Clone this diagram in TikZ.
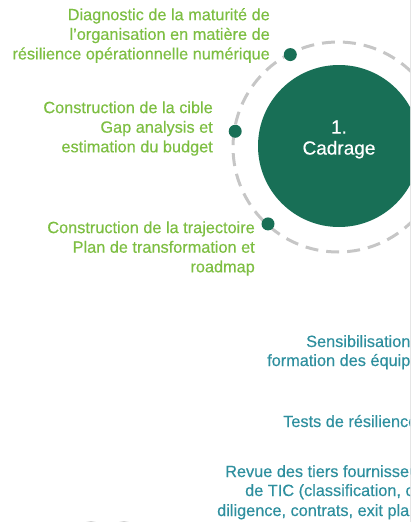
\documentclass[tikz,border=0pt]{standalone}
\usepackage{fontspec}
\setmainfont{Liberation Sans}
\newfontfamily\slidefont{Liberation Sans}[FakeBold=0.4]
\usetikzlibrary{shapes,arrows}
\definecolor{phasegreen}{RGB}{24,111,86}
\definecolor{taskgreen}{RGB}{125,190,66}
\definecolor{actionteal}{RGB}{46,143,158}
\definecolor{ringgray}{RGB}{198,198,198}
\tikzstyle{phase} = [circle, fill=phasegreen, minimum size=162pt, inner sep=0pt]
\tikzstyle{phase label} = [text=white, align=center, inner sep=0pt, font=\slidefont\fontsize{19}{21}\selectfont]
\tikzstyle{ring} = [draw=ringgray, line width=3pt, dash pattern=on 13pt off 8pt]
\tikzstyle{dot} = [circle, fill=phasegreen, minimum size=13pt, inner sep=0pt]
\tikzstyle{task} = [text=taskgreen, align=right, anchor=east, inner sep=0pt, font=\slidefont\fontsize{16.3}{19.6}\selectfont]
\tikzstyle{action} = [text=actionteal, anchor=base west, inner sep=0pt, font=\slidefont\fontsize{16.3}{19.6}\selectfont]

\begin{document}
\begin{tikzpicture}[x=1pt, y=-1pt]
    \useasboundingbox (0,0) rectangle (412,522);
    \draw [gray!20, line width=1pt] (410.5,0) -- (410.5,522);
    \begin{scope}
    \clip (0,0) rectangle (410,522);
    % Place nodes
    \coordinate (hub) at (338,147);
    \node [phase] (cadrage) at (339,146) {};
    \node [phase label] (cadrage-text) at ([yshift=6.5pt]cadrage.center) {1.\\Cadrage};
    \draw [ring] (hub) circle (105pt);
    \node [dot] (diag-dot) at ([shift={(117.3:104pt)}]hub) {};
    \node [dot] (cible-dot) at ([shift={(171.3:104pt)}]hub) {};
    \node [dot] (traj-dot) at ([shift={(227.7:104pt)}]hub) {};
    % Steps of the phase
    \node [task] (diag) at (270,35.5) {Diagnostic de la maturité de\\l’organisation en matière de\\résilience opérationnelle numérique};
    \node [task] (cible) at (213,128.5) {Construction de la cible\\Gap analysis et\\estimation du budget};
    \node [task] (traj) at (255,248.5) {Construction de la trajectoire\\Plan de transformation et\\roadmap};
    % Next column
    \node [action] (sensib) at (306,347) {Sensibilisation};
    \node [action] (formation) at (267,366) {formation des équipes};
    \node [action] (tests) at (283,427) {Tests de résilience};
    \node [action] (revue) at (225,477) {Revue des tiers fournisseurs};
    \node [action] (tic) at (245,496) {de TIC (classification, c};
    \node [action] (diligence) at (217,516) {diligence, contrats, exit plan};
    % Icons below the frame
    \fill [gray!35] (91,534) circle (13pt);
    \fill [gray!35] (124,534) circle (13pt);
    \end{scope}
\end{tikzpicture}
\end{document}
